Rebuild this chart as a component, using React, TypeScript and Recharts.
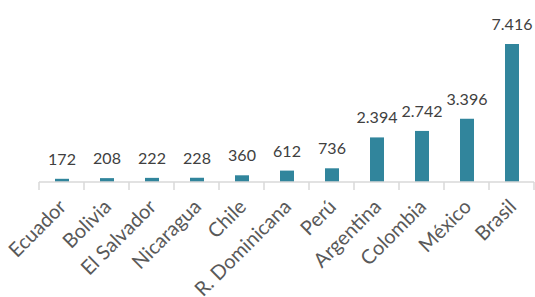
import { BarChart, Bar, XAxis, YAxis, LabelList } from 'recharts';

const countries = ['Ecuador', 'Bolivia', 'El Salvador', 'Nicaragua', 'Chile', 'R. Dominicana', 'Perú', 'Argentina', 'Colombia', 'México', 'Brasil'];
const values = [172, 208, 222, 228, 360, 612, 736, 2394, 2742, 3396, 7416];

const chartData = countries.map((country, i) => ({ country, value: values[i] }));

// thousands with a dot, like the source
const fmt = (v: any) => Number(v).toLocaleString('de-DE');

const BAND = 45;
const FONT = 'Lato, "Open Sans", sans-serif';

const CountryTick = (props: any) => {
  const { x, y, payload, index } = props;
  const isLast = index === countries.length - 1;
  const ax = x + 6;
  const ay = y + 18;
  return (
    <g>
      <line x1={x - BAND / 2} x2={x - BAND / 2} y1={y - 8} y2={y} stroke="#D9D9D9" strokeWidth={1.5} />
      {isLast && <line x1={x + BAND / 2} x2={x + BAND / 2} y1={y - 8} y2={y} stroke="#D9D9D9" strokeWidth={1.5} />}
      <text
        x={ax}
        y={ay}
        textAnchor="end"
        fill="#595959"
        fontSize={20}
        fontFamily={FONT}
        transform={`rotate(-45, ${ax}, ${ay})`}
      >
        {payload.value}
      </text>
    </g>
  );
};

export default function App() {
  return (
    <div style={{ position: 'absolute', left: 0, top: 0, background: '#fff' }}>
      <BarChart width={535} height={297} data={chartData} margin={{ top: 33, right: 1, bottom: 0, left: 39 }}>
        <XAxis
          dataKey="country"
          interval={0}
          axisLine={{ stroke: '#D9D9D9', strokeWidth: 1.5 }}
          tickLine={false}
          tick={<CountryTick />}
          height={115}
        />
        <YAxis hide domain={[0, 8000]} />
        <Bar dataKey="value" fill="#31859C" barSize={14} isAnimationActive={false}>
          <LabelList dataKey="value" position="top" offset={14} formatter={fmt} fill="#404040" fontSize={16} fontFamily={FONT} />
        </Bar>
      </BarChart>
    </div>
  );
}
